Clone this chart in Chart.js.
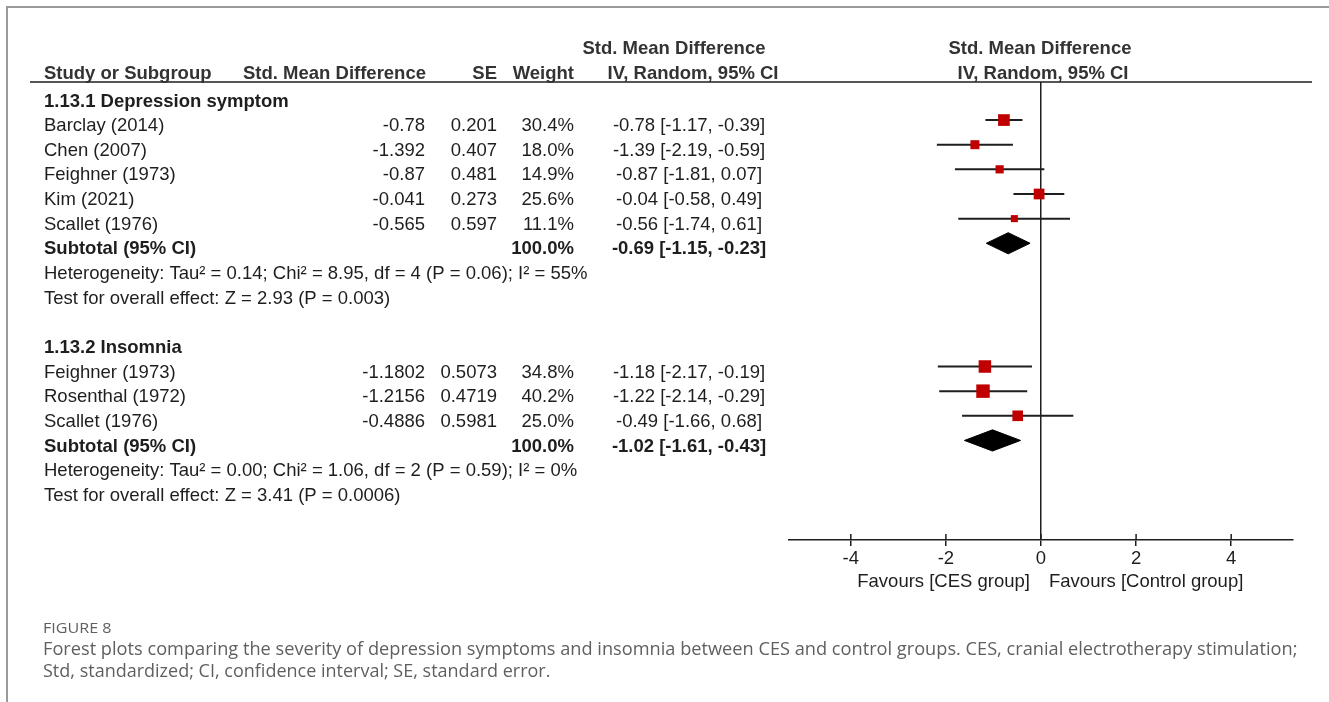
<!DOCTYPE html>
<html>
<head>
<meta charset="utf-8">
<script src="https://cdn.jsdelivr.net/npm/chart.js@4.4.0/dist/chart.umd.min.js"></script>
<style>
  body { margin: 0; background: #fff; }
  #wrap { position: relative; width: 1329px; height: 702px; overflow: hidden; background: #fff; }
  #frame { position: absolute; left: 6px; top: 6px; width: 1400px; height: 800px;
           border-left: 2px solid #9a9a9a; border-top: 2px solid #9a9a9a; }
  #forest { position: absolute; left: 0; top: 0; }
  .cap { position: absolute; left: 43px; color: #5f5f5f; white-space: nowrap; transform-origin: left top;
         font-family: 'Liberation Sans Narrow', 'Open Sans', sans-serif; }
</style>
</head>
<body>
<div id="wrap">
  <div id="frame"></div>
  <canvas id="forest" width="1329" height="702"></canvas>
  <div class="cap" id="figLabel" style="top:618px;font-size:14px;" data-w="69">FIGURE 8</div>
  <div class="cap" style="top:635px;font-size:18.5px;" data-w="1254">Forest plots comparing the severity of depression symptoms and insomnia between CES and control groups. CES, cranial electrotherapy stimulation;</div>
  <div class="cap" style="top:657px;font-size:18.5px;" data-w="507">Std, standardized; CI, confidence interval; SE, standard error.</div>
</div>
<script>
// 1.13.1 Depression symptom
const depStudies = ['Barclay (2014)', 'Chen (2007)', 'Feighner (1973)', 'Kim (2021)', 'Scallet (1976)'];
const depSmd = [-0.78, -1.392, -0.87, -0.041, -0.565];
const depSe = [0.201, 0.407, 0.481, 0.273, 0.597];
const depWeight = [30.4, 18.0, 14.9, 25.6, 11.1];
const depEst = [-0.78, -1.39, -0.87, -0.04, -0.56];
const depLow = [-1.17, -2.19, -1.81, -0.58, -1.74];
const depHigh = [-0.39, -0.59, 0.07, 0.49, 0.61];
const depTotal = [-0.69, -1.15, -0.23]; // est, low, high
const depHet = 'Heterogeneity: Tau² = 0.14; Chi² = 8.95, df = 4 (P = 0.06); I² = 55%';
const depTest = 'Test for overall effect: Z = 2.93 (P = 0.003)';

// 1.13.2 Insomnia
const insStudies = ['Feighner (1973)', 'Rosenthal (1972)', 'Scallet (1976)'];
const insSmd = [-1.1802, -1.2156, -0.4886];
const insSe = [0.5073, 0.4719, 0.5981];
const insWeight = [34.8, 40.2, 25.0];
const insEst = [-1.18, -1.22, -0.49];
const insLow = [-2.17, -2.14, -1.66];
const insHigh = [-0.19, -0.29, 0.68];
const insTotal = [-1.02, -1.61, -0.43];
const insHet = 'Heterogeneity: Tau² = 0.00; Chi² = 1.06, df = 2 (P = 0.59); I² = 0%';
const insTest = 'Test for overall effect: Z = 3.41 (P = 0.0006)';

const xTicks = [-4, -2, 0, 2, 4];
const favours = ['Favours [CES group]', 'Favours [Control group]'];

const groups = [
  { title: '1.13.1 Depression symptom', studies: depStudies, smd: depSmd, se: depSe, weight: depWeight,
    est: depEst, low: depLow, high: depHigh, total: depTotal, het: depHet, test: depTest },
  { title: '1.13.2 Insomnia', studies: insStudies, smd: insSmd, se: insSe, weight: insWeight,
    est: insEst, low: insLow, high: insHigh, total: insTotal, het: insHet, test: insTest }
];

// give every line of the table its row number
let r = 0;
groups.forEach(g => {
  g.headRow = r++;
  g.rows = g.studies.map(() => r++);
  g.totalRow = r++;
  g.hetRow = r++;
  g.testRow = r++;
  r++; // blank line between subgroups
});

const ink = '#1e1e1e';
const font = 'Liberation Sans, Arial, sans-serif';
const fontSize = 18.5;
const ci = (e, l, h) => e.toFixed(2) + ' [' + l.toFixed(2) + ', ' + h.toFixed(2) + ']';

const squares = [], sqWeight = [];
groups.forEach(g => g.studies.forEach((s, i) => {
  squares.push({ x: g.est[i], y: g.rows[i] });
  sqWeight.push(g.weight[i]);
}));

const whiskers = [];
groups.forEach(g => g.studies.forEach((s, i) => {
  whiskers.push({
    data: [{ x: g.low[i], y: g.rows[i] }, { x: g.high[i], y: g.rows[i] }],
    showLine: true, borderColor: ink, borderWidth: 2, pointRadius: 0, order: 2
  });
}));

const dh = 0.43;
const diamonds = groups.map(g => {
  const [e, l, h] = g.total, y = g.totalRow;
  return {
    data: [{ x: l, y: y }, { x: e, y: y - dh }, { x: h, y: y }, { x: e, y: y + dh }, { x: l, y: y }],
    showLine: true, borderColor: '#000', borderWidth: 1, backgroundColor: '#000',
    fill: 'shape', pointRadius: 0, tension: 0, order: 1
  };
});

const tablePlugin = {
  id: 'table',
  afterDraw(chart) {
    const ctx = chart.ctx, ys = chart.scales.y, xs = chart.scales.x, area = chart.chartArea;
    ctx.save();
    ctx.strokeStyle = ink;
    ctx.lineWidth = 1.5;
    // header rule
    ctx.beginPath(); ctx.moveTo(30, area.top); ctx.lineTo(1312, area.top); ctx.stroke();
    // upper half of the axis ticks
    xs.ticks.forEach(t => {
      const px = xs.getPixelForValue(t.value);
      ctx.beginPath(); ctx.moveTo(px, area.bottom - 6); ctx.lineTo(px, area.bottom); ctx.stroke();
    });

    const txt = (s, x, y, align, bold, color) => {
      ctx.font = (bold ? 'bold ' : '') + fontSize + 'px ' + font;
      ctx.textAlign = align;
      ctx.textBaseline = 'middle';
      ctx.fillStyle = color || ink;
      ctx.fillText(s, x, y);
    };
    const hd = '#333';
    txt('Std. Mean Difference', 674, 49, 'center', true, hd);
    txt('Std. Mean Difference', 1040, 49, 'center', true, hd);
    txt('Study or Subgroup', 44, 74, 'left', true, hd);
    txt('Std. Mean Difference', 426, 74, 'right', true, hd);
    txt('SE', 497, 74, 'right', true, hd);
    txt('Weight', 574, 74, 'right', true, hd);
    txt('IV, Random, 95% CI', 693, 74, 'center', true, hd);
    txt('IV, Random, 95% CI', 1043, 74, 'center', true, hd);

    const off = 6;
    const py = row => ys.getPixelForValue(row) + off;
    groups.forEach(g => {
      txt(g.title, 44, py(g.headRow), 'left', true);
      g.studies.forEach((s, i) => {
        const y = py(g.rows[i]);
        txt(s, 44, y, 'left');
        txt(String(g.smd[i]), 425, y, 'right');
        txt(String(g.se[i]), 497, y, 'right');
        txt(g.weight[i].toFixed(1) + '%', 574, y, 'right');
        txt(ci(g.est[i], g.low[i], g.high[i]), 689, y, 'center');
      });
      const ty = py(g.totalRow);
      txt('Subtotal (95% CI)', 44, ty, 'left', true);
      txt('100.0%', 574, ty, 'right', true);
      txt(ci(g.total[0], g.total[1], g.total[2]), 689, ty, 'center', true);
      txt(g.het, 44, py(g.hetRow), 'left');
      txt(g.test, 44, py(g.testRow), 'left');
    });

    const zx = xs.getPixelForValue(0);
    txt(favours[0], zx - 11, 582, 'right');
    txt(favours[1], zx + 8, 582, 'left');
    ctx.restore();
  }
};

new Chart(document.getElementById('forest'), {
  type: 'scatter',
  data: {
    datasets: [
      { data: squares, pointStyle: 'rect', backgroundColor: '#c00000', borderWidth: 0,
        pointRadius: c => 1.5 * Math.sqrt(sqWeight[c.dataIndex] || 0), order: 0 },
      ...whiskers,
      ...diamonds
    ]
  },
  options: {
    responsive: false,
    animation: false,
    layout: { padding: { left: 789, right: 36, top: 82, bottom: 122 } },
    plugins: { legend: { display: false }, tooltip: { enabled: false } },
    scales: {
      x: {
        type: 'linear', min: -5.3, max: 5.3,
        afterFit: s => { s.height = 40; },
        afterBuildTicks: s => { s.ticks = xTicks.map(v => ({ value: v })); },
        ticks: { color: ink, font: { family: font, size: fontSize }, padding: 2, includeBounds: false },
        grid: {
          color: c => (c.tick && c.tick.value === 0) ? ink : 'rgba(0,0,0,0)',
          lineWidth: 1.5, tickColor: ink, tickLength: 6, tickWidth: 1.5
        },
        border: { display: true, color: ink, width: 1.5 }
      },
      y: { type: 'linear', reverse: true, min: -0.544, max: 18.04, display: false }
    }
  },
  plugins: [tablePlugin]
});

// squeeze the caption lines to the width they have in the figure
document.querySelectorAll('.cap').forEach(el => {
  const w = +el.dataset.w;
  el.style.transform = 'scaleX(' + (w / el.offsetWidth) + ')';
});
</script>
</body>
</html>
